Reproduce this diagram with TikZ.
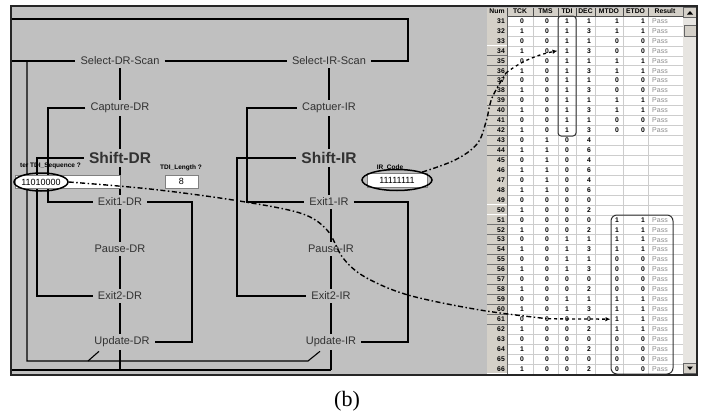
\documentclass[tikz,border=0pt]{standalone}
\usepackage{fontspec}
\setmainfont{Liberation Serif}
\setsansfont{Liberation Sans}
\usetikzlibrary{arrows.meta, calc, shapes.geometric}

\definecolor{panelgray}{RGB}{192,192,192}
\definecolor{btnface}{RGB}{212,208,200}
\definecolor{statetext}{RGB}{50,50,50}
\definecolor{gridgray}{RGB}{205,205,205}

\begin{document}
\begin{tikzpicture}[x=1pt, y=-1pt,
    state/.style={font=\sffamily\fontsize{11}{12}\selectfont, text=statetext, inner xsep=5pt, inner ysep=3pt},
    shiftstate/.style={state, font=\sffamily\bfseries\fontsize{15.5}{17}\selectfont},
    tr/.style={line width=1.1pt, black},
    lbl/.style={font=\sffamily\bfseries\fontsize{6.5}{7}\selectfont, inner sep=0pt},
    field/.style={fill=white, draw=gray, line width=0.6pt, inner sep=0pt, font=\sffamily\fontsize{9}{10}\selectfont},
    ring/.style={ellipse, draw=black, line width=1.5pt, inner sep=0pt},
    trace/.style={line width=1.4pt, dash pattern=on 5pt off 2.5pt on 1.5pt off 2.5pt},
    pointer/.style={line width=1.3pt, dashed, -{Latex[length=5pt,width=4.5pt]}},
    cell/.style={font=\sffamily\bfseries\fontsize{6.8}{7}\selectfont, inner sep=0pt},
    passtxt/.style={font=\sffamily\fontsize{7}{7}\selectfont, text=gray!90, inner sep=0pt},
    hilite/.style={draw=black!80, line width=1pt, inner sep=0pt}]
  \useasboundingbox (0,0) rectangle (702,415);
  \fill[white] (0,0) rectangle (702,415);
  \fill[panelgray] (11,6) rectangle (697,375);

  % TAP states
  \node[state] (sdr) at (120,61) {Select-DR-Scan};
  \node[state] (cdr) at (120,108) {Capture-DR};
  \node[shiftstate] (shdr) at (120,158) {Shift-DR};
  \node[state] (e1dr) at (120,202) {Exit1-DR};
  \node[state] (pdr) at (120,249) {Pause-DR};
  \node[state] (e2dr) at (120,296) {Exit2-DR};
  \node[state] (udr) at (122,342) {Update-DR};
  \node[state] (sir) at (329,61) {Select-IR-Scan};
  \node[state] (cir) at (329,108) {Captuer-IR};
  \node[shiftstate] (shir) at (329,158) {Shift-IR};
  \node[state] (e1ir) at (329,202) {Exit1-IR};
  \node[state] (pir) at (331,249) {Pause-IR};
  \node[state] (e2ir) at (331,296) {Exit2-IR};
  \node[state] (uir) at (331,342) {Update-IR};

  \coordinate (tlr) at (12,19);
  \coordinate (tlrc) at (408,19);
  \coordinate (rtiin) at (12,61);
  \coordinate (rtiup) at (27,61);
  \coordinate (rtidn) at (27,361);
  \coordinate (udrtick) at (88,361);
  \coordinate (uirtick) at (308,361);
  \coordinate (botl) at (12,370);
  \coordinate (bcdr) at (48,0);
  \coordinate (bshdr) at (37,0);
  \coordinate (be1dr) at (192,0);
  \coordinate (bcir) at (247,0);
  \coordinate (bshir) at (237,0);
  \coordinate (be1ir) at (408,0);

  \draw[tr] (sdr.south) -- (cdr.north) (cdr.south) -- (shdr.north) (shdr.south) -- (e1dr.north)
            (e1dr.south) -- (pdr.north) (pdr.south) -- (e2dr.north) (e2dr.south) -- (udr.north -| sdr);
  \draw[tr] (sir.south) -- (cir.north) (cir.south) -- (shir.north) (shir.south) -- (e1ir.north -| sir)
            (e1ir.south -| uir) -- (pir.north -| uir) (pir.south -| uir) -- (e2ir.north -| uir) (e2ir.south -| uir) -- (uir.north);
  \draw[tr] (sdr.east) -- (sir.west);
  \draw[tr] (sir.east) -| (tlrc) -- (tlr);
  \draw[tr] (rtiin) -- (sdr.west);
  \draw[tr] (rtiup) -- (rtidn) -- (uirtick) -- ($(uir.south)+(-11,1)$);
  \draw[tr] (udrtick) -- ($(udr.south)+(-23,1)$);
  \draw[tr] (botl) -- (botl -| uir.south);
  \draw[tr] (udr.south -| sdr) -- (botl -| sdr);
  \draw[tr] (uir.south) -- (botl -| uir.south);
  \draw[tr] (cdr.west) -- (cdr.west -| bcdr) |- (e1dr.west);
  \draw[tr] (shdr.west) -- (shdr.west -| bshdr) |- (e2dr.west);
  \draw[tr] (e1dr.east) -| (udr.east -| be1dr) -- (udr.east);
  \draw[tr] (cir.west) -- (cir.west -| bcir) |- (e1ir.west);
  \draw[tr] (shir.west) -- (shir.west -| bshir) |- (e2ir.west);
  \draw[tr] (e1ir.east) -| (uir.east -| be1ir) -- (uir.east);

  % entry fields
  \node[lbl, anchor=east] (seqlbl) at (81,166) {ter TDI\_Sequence ?};
  \node[field, minimum width=105pt, minimum height=13pt] (seqfield) at (67.5,181.5) {};
  \node[field, draw=none, fill=none] (seq) at (41,182) {11010000};
  \node[ring, minimum width=54pt, minimum height=18pt] (seqring) at (41,182) {};
  \node[lbl] (lenlbl) at (181,168) {TDI\_Length ?};
  \node[field, minimum width=33pt, minimum height=13pt] (lenfield) at (181.5,181.5) {8};
  \node[lbl] (irlbl) at (390,168) {IR\_Code};
  \node[field, minimum width=60pt, minimum height=14pt] (irfield) at (397,180) {11111111};
  \node[ring, minimum width=70pt, minimum height=21pt] (irring) at (397,180) {};

  % table
  \fill[white] (487,7.5) rectangle (683,374);
  \fill[btnface] (487,7.5) rectangle (683,16);
  \foreach \k in {0,...,36}
    \draw[gridgray, line width=0.5pt] (507,{16+\k*9.94}) -- (683,{16+\k*9.94});
  \foreach \cx in {533,558,576,595,623,648}
    \draw[gridgray, line width=0.5pt] (\cx,16) -- (\cx,374);
  \foreach \cx in {507,533,558,576,595,623,648,683}
    \draw[black!70, line width=0.6pt] (\cx,7.5) -- (\cx,16);
  \draw[black!70, line width=0.6pt] (487,16) -- (683,16);
  \draw[black!60, line width=0.6pt] (507,16) -- (507,374);
  \node[cell] (hnum) at (497,11.5) {Num};
  \node[cell] (htck) at (520,11.5) {TCK};
  \node[cell] (htms) at (545.5,11.5) {TMS};
  \node[cell] (htdi) at (567,11.5) {TDI};
  \node[cell] (hdec) at (585.5,11.5) {DEC};
  \node[cell] (hmtdo) at (609,11.5) {MTDO};
  \node[cell] (hetdo) at (635.5,11.5) {ETDO};
  \node[cell] (hres) at (665,11.5) {Result};
  \foreach \rn/\tck/\tms/\tdi/\dec/\mt/\et/\res in {
      31/0/0/1/1/1/1/Pass, 32/1/0/1/3/1/1/Pass, 33/0/0/1/1/0/0/Pass, 34/1/0/1/3/0/0/Pass,
      35/0/0/1/1/1/1/Pass, 36/1/0/1/3/1/1/Pass, 37/0/0/1/1/0/0/Pass, 38/1/0/1/3/0/0/Pass,
      39/0/0/1/1/1/1/Pass, 40/1/0/1/3/1/1/Pass, 41/0/0/1/1/0/0/Pass, 42/1/0/1/3/0/0/Pass,
      43/0/1/0/4/{}/{}/{}, 44/1/1/0/6/{}/{}/{}, 45/0/1/0/4/{}/{}/{}, 46/1/1/0/6/{}/{}/{},
      47/0/1/0/4/{}/{}/{}, 48/1/1/0/6/{}/{}/{}, 49/0/0/0/0/{}/{}/{}, 50/1/0/0/2/{}/{}/{},
      51/0/0/0/0/1/1/Pass, 52/1/0/0/2/1/1/Pass, 53/0/0/1/1/1/1/Pass, 54/1/0/1/3/1/1/Pass,
      55/0/0/1/1/0/0/Pass, 56/1/0/1/3/0/0/Pass, 57/0/0/0/0/0/0/Pass, 58/1/0/0/2/0/0/Pass,
      59/0/0/1/1/1/1/Pass, 60/1/0/1/3/1/1/Pass, 61/0/0/0/0/1/1/Pass, 62/1/0/0/2/1/1/Pass,
      63/0/0/0/0/0/0/Pass, 64/1/0/0/2/0/0/Pass, 65/0/0/0/0/0/0/Pass, 66/1/0/0/2/0/0/Pass} {
    \pgfmathsetmacro\ry{16+(\rn-30.5)*9.94}
    \fill[btnface] (487,\ry-4.6) rectangle (506.5,\ry+4.6);
    \draw[black!55, line width=0.6pt] (487,\ry+4.97) -- (507,\ry+4.97);
    \node[cell, anchor=east] (num\rn) at (505,\ry) {\rn};
    \node[cell] (tck\rn) at (522,\ry) {\tck};
    \node[cell] (tms\rn) at (547,\ry) {\tms};
    \node[cell] (tdi\rn) at (567,\ry) {\tdi};
    \node[cell, anchor=east] (dec\rn) at (591,\ry) {\dec};
    \node[cell, anchor=east] (mtdo\rn) at (619,\ry) {\mt};
    \node[cell, anchor=east] (etdo\rn) at (645,\ry) {\et};
    \node[passtxt, anchor=west] (res\rn) at (652,\ry) {\res};
  }
  \node[hilite, rounded corners=3pt, minimum width=18pt, minimum height=120pt] (tdibox) at (567,76) {};
  \node[hilite, rounded corners=6pt, minimum width=62pt, minimum height=159pt] (outbox) at (642,294.5) {};

  % scroll bar
  \fill[btnface!55] (683,7.5) rectangle (697,374);
  \draw[fill=btnface, draw=black!60, line width=0.5pt] (683.5,7.5) rectangle (696.5,17);
  \fill (687,14.5) -- (693,14.5) -- (690,11) -- cycle;
  \draw[fill=btnface, draw=black!60, line width=0.5pt] (684,25) rectangle (696,36);
  \draw[fill=btnface, draw=black!60, line width=0.5pt] (683.5,363) rectangle (696.5,373.5);
  \fill (687,366.5) -- (693,366.5) -- (690,370) -- cycle;

  % traces
  \coordinate (k1) at (548,318.8);
  \coordinate (k2) at (506,73);
  \draw[trace] plot[smooth, tension=0.55] coordinates {(seqring.east) (150,189) (233,200) (300,213) (327,230) (343,258) (365,277) (408,295) (480,310) (k1)};
  \draw[pointer] (k1) -- (outbox.west |- mtdo61);
  \draw[trace] plot[smooth, tension=0.6] coordinates {(irring.north east) (455,160) (477,144) (486,122) (492,98) (k2)};
  \draw[pointer] (k2) .. controls (520,62) and (536,55) .. (tdibox.west |- tdi34);

  \draw[line width=2.5pt, black!85] (11,6) rectangle (697,375);
  \node[font=\fontsize{22}{24}\selectfont] (cap) at (347,401) {(b)};
\end{tikzpicture}
\end{document}
